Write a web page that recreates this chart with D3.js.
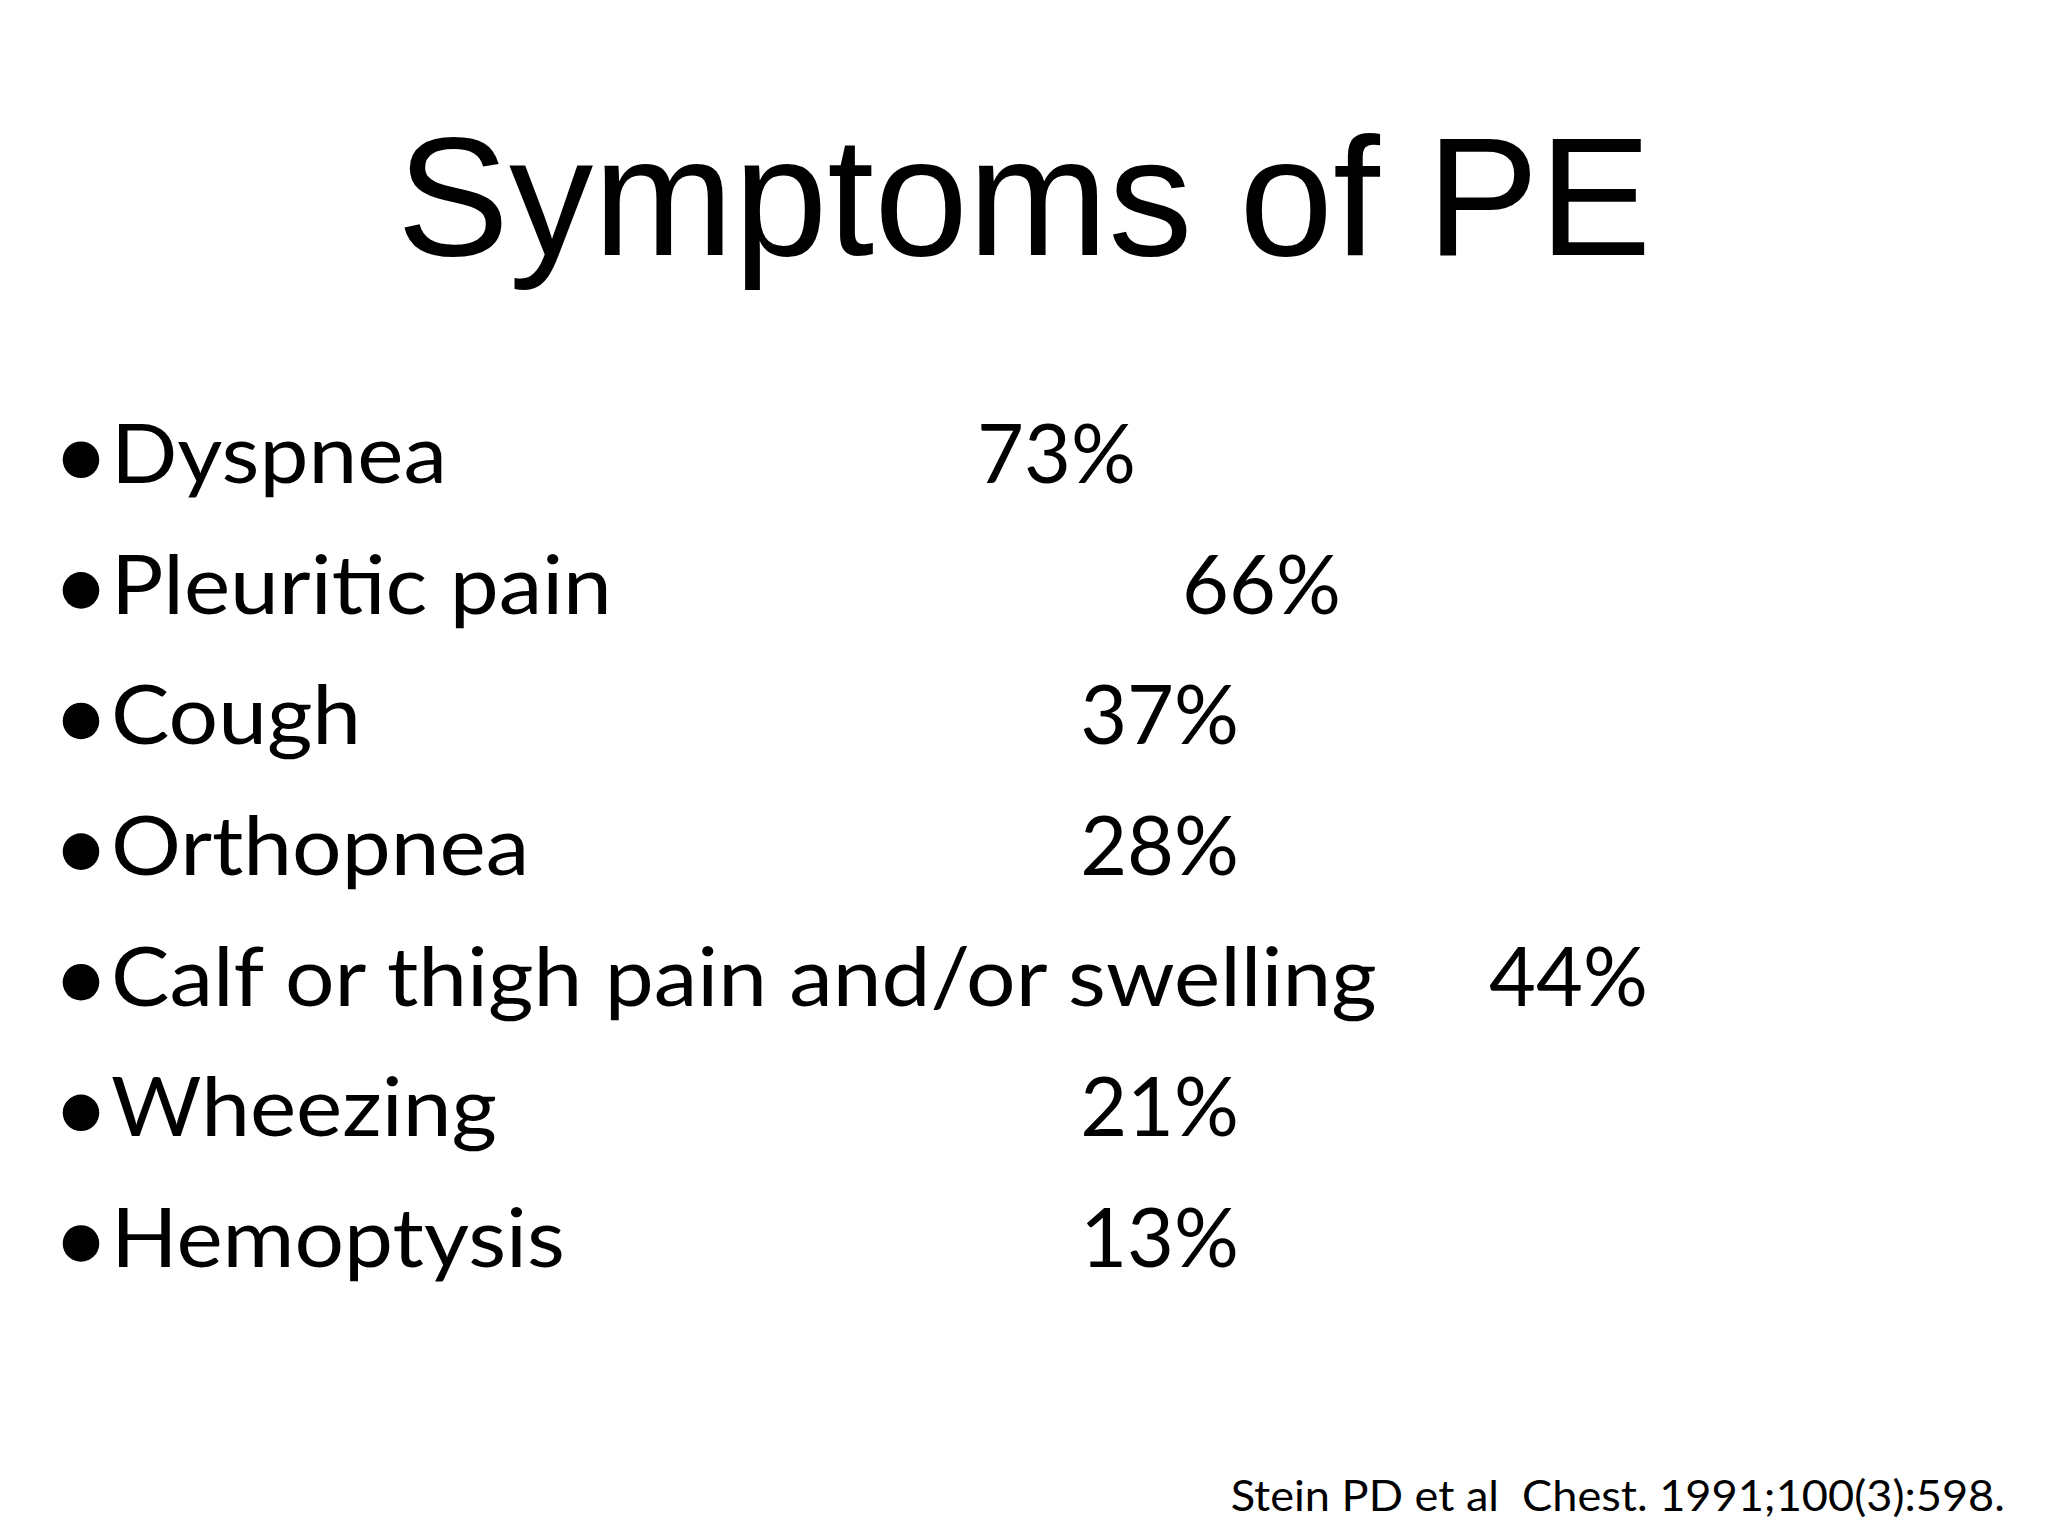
<!DOCTYPE html>
<html><head><meta charset="utf-8">
<script src="https://cdn.jsdelivr.net/npm/d3@7"></script>
<style>html,body{margin:0;background:#fff}</style>
</head><body>
<svg id="slide" width="2048" height="1536" viewBox="0 0 1568 1176"></svg>
<script>
const symptoms = ['Dyspnea', 'Pleuritic pain', 'Cough', 'Orthopnea', 'Calf or thigh pain and/or swelling', 'Wheezing', 'Hemoptysis'];
const percents = [73, 66, 37, 28, 44, 21, 13];
// tab stops of the percent column as laid out on the slide
const tabStops = [748, 905, 827, 827, 1140, 827, 827];

const svg = d3.select('#slide');
const bodyFont = 'Lato, "Open Sans", sans-serif';

svg.append('text')
  .attr('x', 784).attr('y', 195)
  .attr('text-anchor', 'middle')
  .style('font-family', '"Liberation Sans", Arial, sans-serif')
  .style('font-size', '129px')
  .text('Symptoms of PE');

const y = d3.scaleBand().domain(symptoms).range([300, 1000]);

const rows = svg.selectAll('.row').data(symptoms).enter()
  .append('g').attr('class', 'row')
  .attr('transform', d => `translate(0,${y(d) + 70})`);

rows.append('circle').attr('cx', 62).attr('cy', -18).attr('r', 14).attr('fill', '#000');

rows.append('text')
  .attr('x', 85)
  .style('font-family', bodyFont).style('font-size', '62px')
  .text(d => d)
  .attr('textLength', function () { return this.getComputedTextLength() * 1.08; })
  .attr('lengthAdjust', 'spacingAndGlyphs');

rows.append('text')
  .attr('x', (d, i) => tabStops[i])
  .style('font-family', bodyFont).style('font-size', '62px')
  .text((d, i) => `${percents[i]}%`);

svg.append('text')
  .attr('x', 1535).attr('y', 1157)
  .attr('text-anchor', 'end')
  .style('font-family', bodyFont).style('font-size', '32px')
  .style('white-space', 'pre')
  .text('Stein PD et al  Chest. 1991;100(3):598.')
  .attr('textLength', function () { return this.getComputedTextLength() * 1.08; })
  .attr('lengthAdjust', 'spacingAndGlyphs');
</script>
</body></html>
